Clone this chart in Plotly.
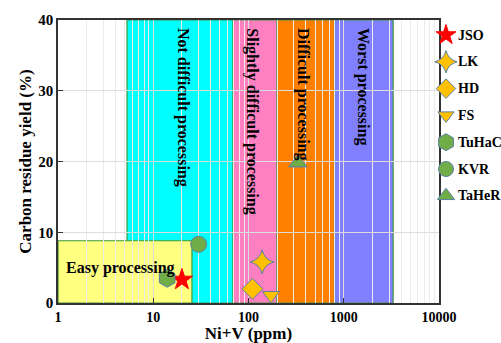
import math
import plotly.graph_objects as go

# ---- data ----
samples = ["JSO", "LK", "HD", "FS", "TuHaC", "KVR", "TaHeR"]
ni_v = [20, 139, 110, 172, 14, 30, 330]
carbon_residue = [3.3, 5.8, 2.0, 1.1, 3.5, 8.3, 19.8]
symbols = ["star", "star-diamond", "diamond", "triangle-down", "hexagon", "circle", "triangle-up"]
fill_colors = ["#FF0000", "#FFC000", "#FFC000", "#FFC000", "#70AD47", "#70AD47", "#70AD47"]
line_colors = ["#FF0000", "#5B7FA6", "#5B7FA6", "#5B7FA6", "#5B7FA6", "#5B7FA6", "#5B7FA6"]
sizes = [16, 17, 16, 15, 18, 16, 16]

zone_names = ["Not difficult processing", "Slightly difficult processing",
              "Difficult processing", "Worst processing"]
zone_x0 = [5.3, 69, 200, 800]
zone_x1 = [69, 200, 800, 3300]
zone_colors = ["#00FFFF", "#FF80C0", "#FF8000", "#8080FF"]
zone_label_x = [20.5, 109, 373, 1590]

easy_name = "Easy processing"
easy_x = [1, 25.5]
easy_y = [0, 8.8]
easy_color = "#FFFF80"
easy_label_x = 4.5
easy_label_y = 4.9

x_ticks = [1, 10, 100, 1000, 10000]
y_ticks = [0, 10, 20, 30, 40]

FONT = "Liberation Serif"

# ---- layout geometry (pixels) ----
W, H = 501, 343
L, T, B = 58, 20, 40
PLOT_RIGHT = 439
plot_w = W - L
main_frac = (PLOT_RIGHT - L) / plot_w

fig = go.Figure()

for i, s in enumerate(samples):
    fig.add_trace(go.Scatter(
        x=[ni_v[i]], y=[carbon_residue[i]], mode="markers", name=s,
        showlegend=False, xaxis="x", yaxis="y",
        marker=dict(symbol=symbols[i], size=sizes[i], color=fill_colors[i],
                    line=dict(color=line_colors[i], width=1)),
    ))

# custom legend drawn on an overlay axis in pixel units (right margin)
leg_top, leg_step = 35, 26.8
leg_marker_x, leg_text_x = 446, 456
annotations = []
for i, s in enumerate(samples):
    yy = leg_top + i * leg_step
    fig.add_trace(go.Scatter(
        x=[leg_marker_x], y=[yy], mode="markers", showlegend=False,
        xaxis="x2", yaxis="y2", cliponaxis=False, hoverinfo="skip",
        marker=dict(symbol=symbols[i], size=sizes[i] - 1, color=fill_colors[i],
                    line=dict(color=line_colors[i], width=1)),
    ))
    annotations.append(dict(x=leg_text_x, y=yy, xref="x2", yref="y2", text="<b>%s</b>" % s,
                            showarrow=False, xanchor="left", yanchor="middle",
                            font=dict(family=FONT, size=14, color="black")))

shapes = []
for x0, x1, c in zip(zone_x0, zone_x1, zone_colors):
    shapes.append(dict(type="rect", xref="x", yref="y", x0=x0, x1=x1, y0=0, y1=40,
                       fillcolor=c, line=dict(color="#3A9A3A", width=1.2), layer="below"))
shapes.append(dict(type="rect", xref="x", yref="y", x0=easy_x[0], x1=easy_x[1],
                   y0=easy_y[0], y1=easy_y[1], fillcolor=easy_color,
                   line=dict(color="#3A9A3A", width=1.2), layer="below"))

for name, lx in zip(zone_names, zone_label_x):
    annotations.append(dict(x=math.log10(lx), y=39.1, xref="x", yref="y", text="<b>%s</b>" % name,
                            showarrow=False, textangle=90, xanchor="center", yanchor="top",
                            font=dict(family=FONT, size=16, color="black")))
annotations.append(dict(x=math.log10(easy_label_x), y=easy_label_y, xref="x", yref="y",
                        text="<b>%s</b>" % easy_name,
                        showarrow=False, font=dict(family=FONT, size=16, color="black")))

xaxis = dict(
    domain=[0, main_frac], anchor="y",
    type="log", range=[0, 4],
    tickvals=x_ticks,
    ticktext=["<b>%d</b>" % v for v in x_ticks],
    tickfont=dict(family=FONT, size=14, color="black"),
    ticks="inside", ticklen=5, tickcolor="#333",
    showline=True, linecolor="#333", linewidth=1.5, mirror=True,
    showgrid=True, gridcolor="#DDDDDD", gridwidth=1,
    minor=dict(showgrid=True, gridcolor="#EBEBEB", gridwidth=1, dtick="D1", ticks=""),
    title=dict(text="<b>Ni+V (ppm)</b>", font=dict(family=FONT, size=17, color="black"), standoff=6),
    zeroline=False,
)
yaxis = dict(
    domain=[0, 1], anchor="x",
    range=[0, 40],
    tickvals=y_ticks,
    ticktext=["<b>%d</b>" % v for v in y_ticks],
    tickfont=dict(family=FONT, size=15, color="black"),
    ticks="inside", ticklen=5, tickcolor="#333",
    showline=True, linecolor="#333", linewidth=1.5, mirror=True,
    showgrid=True, gridcolor="#DDDDDD", gridwidth=1,
    title=dict(text="<b>Carbon residue yield (%)</b>", font=dict(family=FONT, size=17, color="black"), standoff=2),
    zeroline=False,
)

fig.update_layout(
    width=W, height=H,
    margin=dict(l=L, r=0, t=T, b=B, autoexpand=False),
    paper_bgcolor="white", plot_bgcolor="white",
    shapes=shapes, annotations=annotations,
    showlegend=False,
    font=dict(family=FONT, color="black"),
    xaxis=xaxis, yaxis=yaxis,
    xaxis2=dict(domain=[main_frac, 1], range=[PLOT_RIGHT, W], anchor="y2",
                visible=False, fixedrange=True, showgrid=False),
    yaxis2=dict(domain=[0, 1], range=[H - B, T], anchor="x2",
                visible=False, fixedrange=True, showgrid=False),
)

fig.write_html("out.html")
